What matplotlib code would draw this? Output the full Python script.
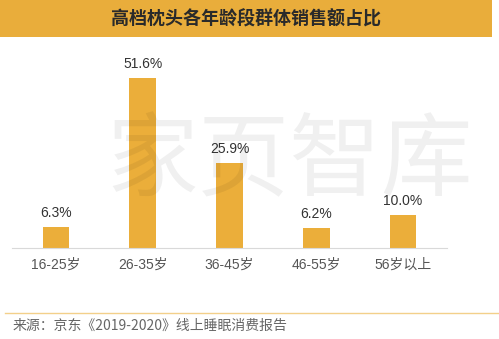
import matplotlib.pyplot as plt
from matplotlib.patches import Rectangle

plt.rcParams['font.family'] = ['Liberation Sans', 'Noto Sans CJK SC', 'DejaVu Sans']

ages = ["16-25岁", "26-35岁", "36-45岁", "46-55岁", "56岁以上"]
share = [6.3, 51.6, 25.9, 6.2, 10.0]

title = "高档枕头各年龄段群体销售额占比"
source = "来源：京东《2019-2020》线上睡眠消费报告"

W, H = 499, 339
fig = plt.figure(figsize=(W / 100, H / 100), dpi=100)
fig.patch.set_facecolor("white")

# orange title band
fig.patches.append(Rectangle((0, 1 - 37 / H), 492 / W, 37 / H, transform=fig.transFigure,
                             facecolor="#E9AD3B", edgecolor="none", zorder=0))
fig.text(246 / W, 1 - 19 / H, title, ha="center", va="center", fontsize=13,
         fontweight="bold", color="#2a2a2a", family=['Noto Sans CJK SC'])

# plotting area: baseline at 248px, ~3.29px per percent
ax = fig.add_axes([12 / W, 91 / H, 435 / W, 60 * 3.29 / H])
ax.set_facecolor("none")
x = range(len(ages))
bars = ax.bar(x, share, width=0.31, color="#EBAE3A", zorder=2)
for xi, v in zip(x, share):
    ax.annotate(f"{v:.1f}%", (xi, v), xytext=(0, 5), textcoords="offset points",
                ha="center", va="bottom", fontsize=10, color="#333333")

ax.set_xlim(-0.507, 4.507)
ax.set_ylim(0, 60)
ax.set_xticks(list(x))
ax.set_xticklabels(ages, fontsize=10, color="#555555")
ax.tick_params(axis="x", length=0, pad=7)
ax.set_yticks([])
for s in ["top", "right", "left"]:
    ax.spines[s].set_visible(False)
ax.spines["bottom"].set_color("#D9D9D9")
ax.spines["bottom"].set_linewidth(0.8)

# faint watermark
fig.text(290 / W, 176 / H, "家页智库", ha="center", va="center", fontsize=66,
         color="#000000", alpha=0.06, family=['Noto Sans CJK SC'], zorder=5)

# footer rule and source note
fig.add_artist(plt.Line2D([5 / W, 1], [26 / H, 26 / H], transform=fig.transFigure,
                          color="#F3D08A", linewidth=1))
fig.text(13 / W, 13 / H, source, ha="left", va="center", fontsize=10, color="#666666",
         family=['Noto Sans CJK SC'])

fig.savefig("out.png", dpi=100)
